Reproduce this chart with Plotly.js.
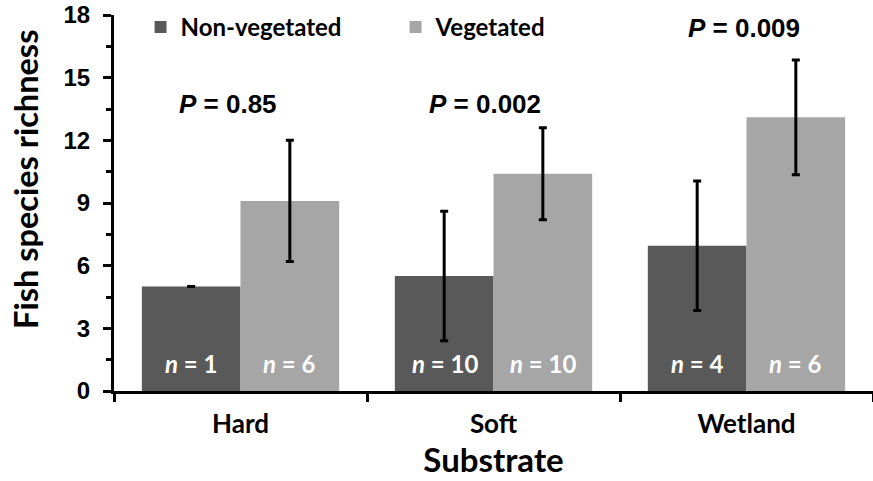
<!DOCTYPE html>
<html>
<head>
<meta charset="utf-8">
<script src="https://cdn.plot.ly/plotly-3.0.1.min.js"></script>
<style>html,body{margin:0;padding:0;background:#fff;}#chart{width:873px;height:481px;}</style>
</head>
<body>
<div id="chart"></div>
<script>
// Data
const categories = ["Hard", "Soft", "Wetland"];
const nonVegMean = [5.0, 5.5, 6.95];
const nonVegErr = [0.0, 3.1, 3.1];
const vegMean = [9.1, 10.4, 13.1];
const vegErr = [2.9, 2.2, 2.75];
const nonVegN = [1, 10, 4];
const vegN = [6, 10, 6];
const pValues = ["0.85", "0.002", "0.009"];
const yTicks = [0, 3, 6, 9, 12, 15, 18];
const yTitle = "Fish species richness";
const xTitle = "Substrate";

const labelFont = "Lato, 'Open Sans', sans-serif";
const numFont = "Arial, 'Liberation Sans', sans-serif";

const traces = [
  {
    type: "bar", name: "Non-vegetated", x: categories, y: nonVegMean,
    marker: {color: "#595959"},
    error_y: {type: "data", array: nonVegErr, visible: true, color: "#000", thickness: 3, width: 4}
  },
  {
    type: "bar", name: "Vegetated", x: categories, y: vegMean,
    marker: {color: "#a6a6a6"},
    error_y: {type: "data", array: vegErr, visible: true, color: "#000", thickness: 3, width: 4}
  }
];

// annotation placement (layout styling)
const pPos = [{y: 13.75, dx: -13}, {y: 13.75, dx: -9}, {y: 17.4, dx: -3}];
const annotations = [];
categories.forEach((c, i) => {
  annotations.push({
    x: c, y: pPos[i].y, xref: "x", yref: "y", xshift: pPos[i].dx,
    text: "<b><i>P</i> = " + pValues[i] + "</b>", showarrow: false,
    font: {family: numFont, size: 26, color: "#000"}
  });
  annotations.push({
    x: c, y: 1.3, xref: "x", yref: "y", xshift: -49,
    text: "<b><i>n</i> = " + nonVegN[i] + "</b>", showarrow: false,
    font: {family: labelFont, size: 24, color: "#fff"}
  });
  annotations.push({
    x: c, y: 1.3, xref: "x", yref: "y", xshift: 49,
    text: "<b><i>n</i> = " + vegN[i] + "</b>", showarrow: false,
    font: {family: labelFont, size: 24, color: "#fff"}
  });
});
// y-axis title (placed as rotated annotation to match reference position)
annotations.push({
  xref: "paper", yref: "paper", x: -0.116, y: 0.564, xanchor: "center", yanchor: "middle",
  textangle: -90, showarrow: false,
  text: "<b>" + yTitle + "</b>",
  font: {family: labelFont, size: 32.5, color: "#000"}
});

const layout = {
  width: 873, height: 481,
  margin: {l: 114, r: 0, t: 15, b: 90},
  paper_bgcolor: "#fff", plot_bgcolor: "#fff",
  barmode: "group", bargap: 0.22, bargroupgap: 0,
  showlegend: true,
  legend: {
    orientation: "h", x: 0.035, xanchor: "left", y: 0.967, yanchor: "middle",
    font: {family: labelFont, size: 24, color: "#000", weight: "bold"},
    entrywidth: 210, bgcolor: "rgba(0,0,0,0)"
  },
  xaxis: {
    type: "category",
    showline: true, linecolor: "#000", linewidth: 3,
    ticks: "outside", tickson: "boundaries", ticklen: 8, tickwidth: 3, tickcolor: "#000",
    tickfont: {family: labelFont, size: 26, color: "#000", weight: "bold"},
    ticklabelstandoff: 8,
    showgrid: false, zeroline: false,
    title: {text: "<b>" + xTitle + "</b>", font: {family: labelFont, size: 33, color: "#000"}, standoff: 6}
  },
  yaxis: {
    range: [0, 18], tickvals: yTicks, ticktext: yTicks.map(String),
    showline: true, linecolor: "#000", linewidth: 3,
    ticks: "outside", ticklen: 8, tickwidth: 3, tickcolor: "#000",
    minor: {dtick: 1.5, tick0: 0, ticks: "outside", ticklen: 5, tickwidth: 3, tickcolor: "#000", showgrid: false},
    tickfont: {family: numFont, size: 24, color: "#000", weight: "bold"},
    ticklabelstandoff: 8,
    showgrid: false, zeroline: false
  },
  annotations: annotations
};

Plotly.newPlot("chart", traces, layout, {displayModeBar: false, staticPlot: true});
</script>
</body>
</html>
